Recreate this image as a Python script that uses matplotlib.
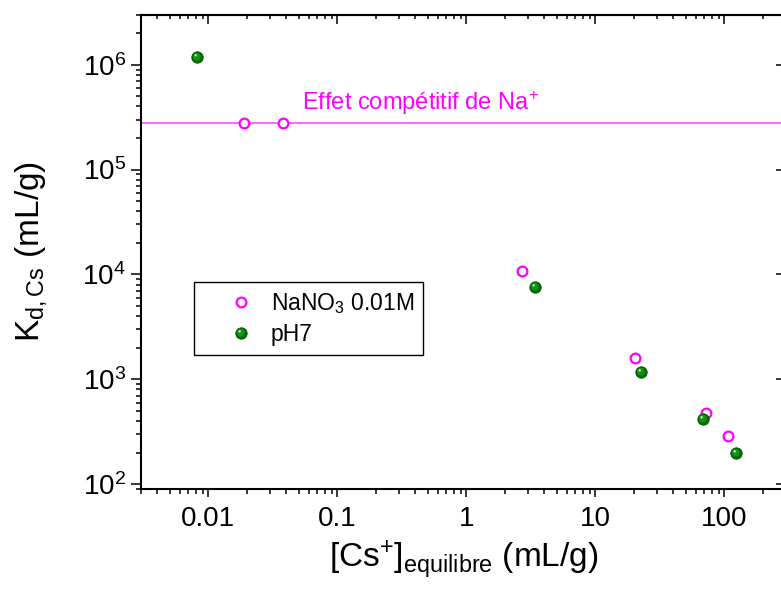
import matplotlib
matplotlib.use("Agg")
import matplotlib.pyplot as plt
import numpy as np
from matplotlib.legend_handler import HandlerTuple
from matplotlib.path import Path
from matplotlib.ticker import FixedLocator, NullLocator

plt.rcParams["font.family"] = ["Liberation Sans", "DejaVu Sans"]
plt.rcParams["mathtext.fontset"] = "custom"
plt.rcParams["mathtext.rm"] = "Liberation Sans"
plt.rcParams["mathtext.it"] = "Liberation Sans:italic"
plt.rcParams["mathtext.bf"] = "Liberation Sans:bold"

# NaNO3 0.01M (cercles ouverts magenta)
cs_nano3 = [0.0188, 0.0378, 2.69, 20.2, 71.9, 106]
kd_nano3 = [2.79e5, 2.79e5, 1.07e4, 1.60e3, 482, 286]

# pH7 (spheres vertes)
cs_ph7 = [0.0081, 3.4, 22.4, 68.6, 122]
kd_ph7 = [1.19e6, 7.57e3, 1.175e3, 423, 197]

# plateau de Kd du a l'effet competitif de Na+
kd_plateau = 2.79e5

xticks = [0.01, 0.1, 1, 10, 100]
xtick_labels = ["0.01", "0.1", "1", "10", "100"]

MAGENTA = "#ff00ff"
LINE_MAGENTA = "#ff5cff"


def _spot_marker(cx, cy, r, ms):
    """Marqueur decentre (reflet de la sphere) + taille equivalente."""
    p = Path.circle(center=(cx, cy), radius=r)
    return p, ms * np.abs(p.vertices).max()


fig = plt.figure(figsize=(7.81, 5.89), dpi=100)
ax = fig.add_axes([0.1805, 0.1698, 0.8259, 0.8053])
ax.set_xscale("log")
ax.set_yscale("log")
ax.set_xlim(0.003, 300)
ax.set_ylim(90, 3e6)

ax.axhline(kd_plateau, color=LINE_MAGENTA, lw=1.3, zorder=1)
h_na, = ax.plot(cs_nano3, kd_nano3, ls="none", marker="o", ms=7,
                mfc="white", mec=MAGENTA, mew=1.6, zorder=3)

# sphere verte : corps sombre + deux reflets
ms = 8.2
h_g, = ax.plot(cs_ph7, kd_ph7, ls="none", marker="o", ms=ms,
               mfc="#007000", mec="#005200", mew=0.6, zorder=4)
mid_path, mid_ms = _spot_marker(-0.12, 0.15, 0.68, ms)
h_mid, = ax.plot(cs_ph7, kd_ph7, ls="none", marker=mid_path, ms=mid_ms,
                 mfc="#15901a", mew=0, zorder=5)
hl_path, hl_ms = _spot_marker(-0.32, 0.38, 0.2, ms)
h_hl, = ax.plot(cs_ph7, kd_ph7, ls="none", marker=hl_path, ms=hl_ms,
                mfc="#e4f2e4", mew=0, zorder=6)

ax.text(0.0528, 3.67e5, "Effet compétitif de Na$^{+}$", color=MAGENTA,
        fontsize=17, va="baseline")

ax.xaxis.set_major_locator(FixedLocator(xticks))
ax.set_xticklabels(xtick_labels)
ax.tick_params(which="major", direction="out", length=7, width=1.1,
               labelsize=20, top=False, right=False, pad=4)
ax.tick_params(which="minor", direction="out", length=3.5, width=1.1,
               top=False, right=False)
ax.tick_params(axis="x", which="major", length=6, pad=6)
for s in ax.spines.values():
    s.set_linewidth(1.5)

top = ax.secondary_xaxis("top")
top.xaxis.set_major_locator(FixedLocator(xticks))
top.tick_params(which="major", direction="in", length=6.5, width=1.1,
                labeltop=False)
top.tick_params(which="minor", direction="in", length=3, width=1.1)
top.spines["top"].set_linewidth(1.5)

right = ax.secondary_yaxis("right")
right.yaxis.set_minor_locator(NullLocator())
right.tick_params(which="major", direction="in", length=7, width=1.1,
                  labelright=False)

ax.set_xlabel(r"[Cs$^{+}$]$_{\mathregular{equilibre}}$ (mL/g)", fontsize=24,
              labelpad=5)
ax.set_ylabel(r"K$_{\mathregular{d,Cs}}$ (mL/g)", fontsize=24, labelpad=24)

leg = ax.legend([h_na, (h_g, h_mid, h_hl)], ["NaNO$_3$ 0.01M", "pH7"],
                handler_map={tuple: HandlerTuple(ndivide=1, pad=0)},
                loc="upper left", bbox_to_anchor=(0.0822, 0.4364),
                borderaxespad=0, fontsize=16.5, frameon=True, fancybox=False,
                edgecolor="black", framealpha=1, borderpad=0.4,
                labelspacing=0.3, handlelength=3.3, handletextpad=-0.35)
leg.get_frame().set_linewidth(1.0)

fig.savefig("out.png", dpi=100)
plt.close(fig)
